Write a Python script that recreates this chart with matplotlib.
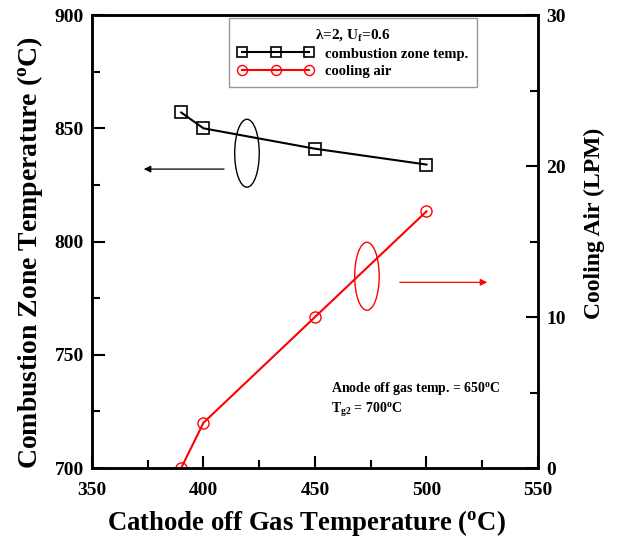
import numpy as np
import matplotlib.pyplot as plt
from matplotlib.patches import Ellipse

plt.rcParams['font.family'] = ['Liberation Serif', 'DejaVu Serif']
plt.rcParams['font.weight'] = 'bold'
plt.rcParams['axes.labelweight'] = 'bold'
plt.rcParams['mathtext.fontset'] = 'custom'
plt.rcParams['mathtext.rm'] = 'Liberation Serif:bold'
plt.rcParams['mathtext.it'] = 'Liberation Serif:bold'
plt.rcParams['mathtext.bf'] = 'Liberation Serif:bold'

# data
cathode_temp = [390, 400, 450, 500]
zone_temp = [857, 850, 841, 834]
cooling_air = [0, 3, 10, 17]

fig = plt.figure(figsize=(6.19, 5.39), dpi=100)
ax = fig.add_axes([0.1486, 0.1317, 0.7205, 0.8403])
ax2 = ax.twinx()

l1, = ax.plot(cathode_temp, zone_temp, 'k-', marker='s', mfc='none', mec='k',
              ms=8, lw=1.5, mew=1.2, label='combustion zone temp.')
l2, = ax2.plot(cathode_temp, cooling_air, '-', color='red', marker='o', mfc='none',
               mec='red', ms=8, lw=1.5, mew=1.0, label='cooling air')

ax.set_xlim(350, 550)
ax.set_ylim(700, 900)
ax2.set_ylim(0, 30)
ax.set_xticks([350, 400, 450, 500, 550])
ax.set_xticks([375, 425, 475, 525], minor=True)
ax.set_yticks([700, 750, 800, 850, 900])
ax.set_yticks([725, 775, 825, 875], minor=True)
ax2.set_yticks([0, 10, 20, 30])
ax2.set_yticks([5, 15, 25], minor=True)

for a in (ax, ax2):
    a.tick_params(which='both', direction='in', width=1.5, labelsize=14)
    a.tick_params(which='major', length=9)
    a.tick_params(which='minor', length=6)
    for s in a.spines.values():
        s.set_linewidth(1.8)
ax.tick_params(right=False, top=False, which='both')
ax.tick_params(axis='x', pad=10)
ax.tick_params(axis='y', pad=6)
ax2.tick_params(pad=6)

ax.set_xlabel(r'Cathode off Gas Temperature ($^{\mathrm{o}}$C)', fontsize=19.3)
ax.xaxis.set_label_coords(0.48, -0.088)
ax.set_ylabel(r'Combustion Zone Temperature ($^{\mathrm{o}}$C)', fontsize=20)
ax.yaxis.set_label_coords(-0.105, 0.477)
ax2.set_ylabel('Cooling Air (LPM)', fontsize=17)
ax2.yaxis.set_label_coords(1.103, 0.54)

leg = ax.legend([l1, l2], ['combustion zone temp.', 'cooling air'],
                title=r'$\lambda$=2, U$_\mathrm{f}$=0.6', numpoints=3,
                loc='upper left', bbox_to_anchor=(0.307, 0.993), borderaxespad=0,
                fontsize=10.5, title_fontsize=11, fancybox=False,
                edgecolor='gray', handlelength=5.2, borderpad=0.6,
                labelspacing=0.3, markerscale=0.9)
leg.get_frame().set_linewidth(1.0)

# ellipses and arrows showing which axis each curve belongs to
ax.add_patch(Ellipse((419.5, 839), 11, 30, fill=False, ec='k', lw=1.0))
ax.annotate('', xy=(372, 832), xytext=(410.5, 832),
            arrowprops=dict(arrowstyle='-|>', color='k', lw=0.9, mutation_scale=10))
ax2.add_patch(Ellipse((473.3, 12.7), 11, 4.5, fill=False, ec='red', lw=1.0))
ax2.annotate('', xy=(528.5, 12.3), xytext=(486.8, 12.3),
             arrowprops=dict(arrowstyle='-|>', color='red', lw=0.9, mutation_scale=10))

ax.text(457, 721.7, 'Anode off gas temp. = 650$^{\\mathrm{o}}$C\nT$_{\\mathrm{g2}}$ = 700$^{\\mathrm{o}}$C',
        fontsize=10, va='bottom', ha='left', linespacing=1.3)

fig.savefig('out.png', dpi=100)
